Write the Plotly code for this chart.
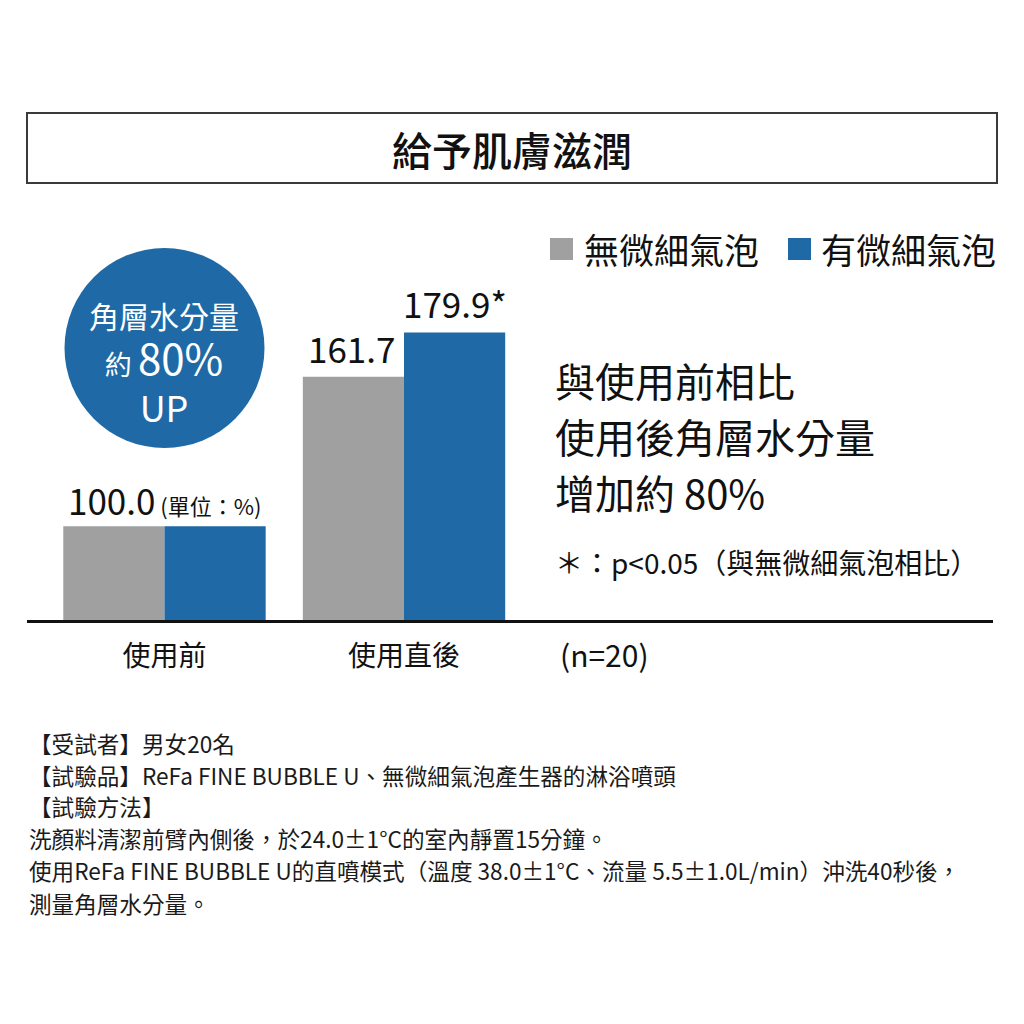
import plotly.graph_objects as go

# ---------------- data ----------------
categories = ["使用前", "使用直後"]
series_names = ["無微細氣泡", "有微細氣泡"]
without_bubble = [100.0, 161.7]
with_bubble = [100.0, 179.9]
value_labels_without = ["100.0", "161.7"]
value_labels_with = ["", "179.9*"]
title_text = "給予肌膚滋潤"
badge_lines = ["角層水分量", "約", "80%", "UP"]
summary_lines = ["與使用前相比", "使用後角層水分量", "增加約 80%"]
sig_note = "＊：p<0.05（與無微細氣泡相比）"
n_note = "(n=20)"
unit_note = "(單位：%)"
footnotes = [
    "【受試者】男女20名",
    "【試驗品】ReFa FINE BUBBLE U、無微細氣泡產生器的淋浴噴頭",
    "【試驗方法】",
    "洗顏料清潔前臂內側後，於24.0±1°C的室內靜置15分鐘。",
    "使用ReFa FINE BUBBLE U的直噴模式（溫度 38.0±1°C、流量 5.5±1.0L/min）沖洗40秒後，",
    "測量角層水分量。",
]

# ---------------- style ----------------
GREY = "#a0a0a0"
BLUE = "#1f6aa6"
INK = "#111111"
FONT = "Noto Sans CJK TC"

# plot-area geometry in page pixels
L, R, TOP, BOTTOM = 27, 993, 200, 620
W, H = R - L, BOTTOM - TOP


def fx(p):
    return (p - L) / W


def fy(p):
    return (BOTTOM - p) / H


x_pos = list(range(len(categories)))
BARGAP = 0.155
off = (1 - BARGAP) / 4

fig = go.Figure()
fig.add_trace(go.Bar(x=x_pos, y=without_bubble, name=series_names[0],
                     marker=dict(color=GREY, line=dict(width=0)), showlegend=False))
fig.add_trace(go.Bar(x=x_pos, y=with_bubble, name=series_names[1],
                     marker=dict(color=BLUE, line=dict(width=0)), showlegend=False))

annotations = []
shapes = []

# value labels above bars (data coordinates)
for i, v in enumerate(without_bubble):
    if i == 0:
        annotations.append(dict(
            x=x_pos[i] - 2 * off, y=v, xref="x", yref="y",
            text=value_labels_without[i] + "<span style='font-size:22px'> " + unit_note + "</span>",
            showarrow=False, xanchor="left", yanchor="middle", yshift=27, xshift=3,
            font=dict(family=FONT, size=35, color=INK)))
    else:
        annotations.append(dict(x=x_pos[i] - off, y=v, xref="x", yref="y", text=value_labels_without[i],
                                showarrow=False, yanchor="middle", yshift=29, xshift=-2,
                                font=dict(family=FONT, size=35, color=INK)))
for i, v in enumerate(with_bubble):
    if value_labels_with[i]:
        annotations.append(dict(x=x_pos[i] + off, y=v, xref="x", yref="y", text=value_labels_with[i],
                                showarrow=False, yanchor="middle", yshift=30,
                                font=dict(family=FONT, size=35, color=INK)))

# title box
shapes.append(dict(type="rect", xref="paper", yref="paper",
                   x0=fx(27), x1=fx(997), y0=fy(183), y1=fy(113),
                   line=dict(color="#3a3a3a", width=2), fillcolor="rgba(0,0,0,0)"))
annotations.append(dict(x=fx(512), y=fy(149), xref="paper", yref="paper", text=title_text,
                        showarrow=False, xanchor="center", yanchor="middle",
                        font=dict(family=FONT, size=40, color=INK, weight=500)))

# legend (manual)
shapes.append(dict(type="rect", xref="paper", yref="paper", x0=fx(550), x1=fx(573),
                   y0=fy(260), y1=fy(238), fillcolor=GREY, line=dict(width=0)))
shapes.append(dict(type="rect", xref="paper", yref="paper", x0=fx(788), x1=fx(811),
                   y0=fy(260), y1=fy(238), fillcolor=BLUE, line=dict(width=0)))
annotations.append(dict(x=fx(582), y=fy(248), xref="paper", yref="paper", text=series_names[0],
                        showarrow=False, xanchor="left", yanchor="middle",
                        font=dict(family=FONT, size=35, color=INK)))
annotations.append(dict(x=fx(819), y=fy(248), xref="paper", yref="paper", text=series_names[1],
                        showarrow=False, xanchor="left", yanchor="middle",
                        font=dict(family=FONT, size=35, color=INK)))

# badge circle with one multi-line text
shapes.append(dict(type="circle", xref="paper", yref="paper",
                   x0=fx(64.5), x1=fx(264.5), y0=fy(448), y1=fy(248),
                   fillcolor=BLUE, line=dict(width=0)))
badge_text = (
    "<span style='font-size:30px'>" + badge_lines[0] + "</span><br>"
    + "<span style='font-size:27px'>" + badge_lines[1] + " </span>"
    + "<span style='font-size:42px'>" + badge_lines[2] + "</span><br>"
    + "<span style='font-size:36px'>" + badge_lines[3] + "</span>"
)
annotations.append(dict(x=fx(164), y=fy(362), xref="paper", yref="paper", text=badge_text,
                        showarrow=False, xanchor="center", yanchor="middle", align="center",
                        font=dict(family=FONT, size=36, color="white")))

# summary text on the right
for txt, yc in zip(summary_lines, [380, 436, 492]):
    annotations.append(dict(x=fx(553), y=fy(yc), xref="paper", yref="paper", text=txt,
                            showarrow=False, xanchor="left", yanchor="middle",
                            font=dict(family=FONT, size=40, color=INK)))
annotations.append(dict(x=fx(553), y=fy(562), xref="paper", yref="paper", text=sig_note,
                        showarrow=False, xanchor="left", yanchor="middle",
                        font=dict(family=FONT, size=28, color=INK)))
annotations.append(dict(x=fx(558), y=fy(654), xref="paper", yref="paper", text=n_note,
                        showarrow=False, xanchor="left", yanchor="middle",
                        font=dict(family=FONT, size=30, color=INK)))

# footnotes
for txt, yc in zip(footnotes, [743, 775, 806, 838, 870, 903]):
    annotations.append(dict(x=fx(27), y=fy(yc), xref="paper", yref="paper", text=txt,
                            showarrow=False, xanchor="left", yanchor="middle",
                            font=dict(family=FONT, size=22.6, color="#1a1a1a")))

fig.update_layout(
    width=1024, height=1024,
    margin=dict(l=L, r=1024 - R, t=TOP, b=1024 - BOTTOM, pad=0),
    paper_bgcolor="white", plot_bgcolor="white",
    barmode="group", bargap=BARGAP, bargroupgap=0,
    showlegend=False,
    shapes=shapes, annotations=annotations,
    font=dict(family=FONT, color=INK),
)
fig.update_xaxes(range=[-0.574, 3.459], tickvals=x_pos, ticktext=categories,
                 tickfont=dict(family=FONT, size=28, color=INK),
                 showgrid=False, zeroline=False, ticks="",
                 showline=True, linecolor="#111111", linewidth=3,
                 ticklabelstandoff=9)
fig.update_yaxes(range=[61.3, 234.6], visible=False, showgrid=False, zeroline=False)

fig.write_html("out.html", config={"displayModeBar": False},
               post_script="document.body.style.margin='0';document.body.style.overflow='hidden';")
